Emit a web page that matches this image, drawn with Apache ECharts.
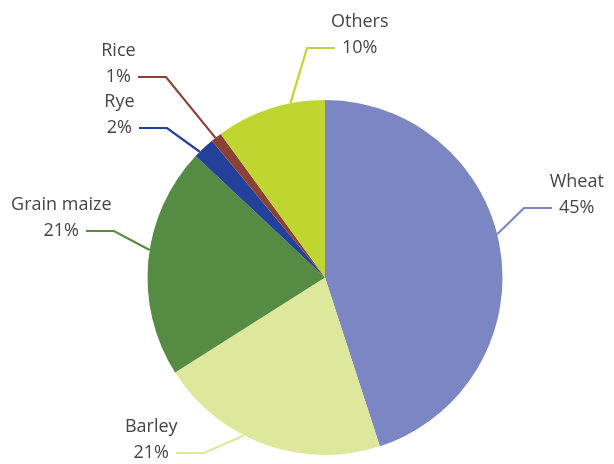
<!DOCTYPE html>
<html><head><meta charset="utf-8">
<script src="https://cdn.jsdelivr.net/npm/echarts@6/dist/echarts.min.js"></script>
<style>html,body{margin:0;padding:0;background:#fff}#c{width:614px;height:464px}</style>
</head><body><div id="c"></div>
<script>
// ---- data ----
const categories = ['Wheat', 'Barley', 'Grain maize', 'Rye', 'Rice', 'Others'];
const shares = [45, 21, 21, 2, 1, 10];

// ---- style / layout ----
const sliceColors = ['#7b86c2', '#dde89c', '#568b44', '#23409a', '#8b4136', '#bfd630'];
// outer end of each leader line (next to the percentage text) and label side
const labelAnchors = [[552, 208, 'right'], [176, 453, 'left'], [86, 231, 'left'], [139, 128, 'left'], [138, 77, 'left'], [335, 48, 'right']];
const PIE_CX = 325, PIE_CY = 277.5, PIE_R = 177.5;
const FONT = '"Open Sans", sans-serif', FS = 18, FW = 'normal', LH = 26.5, LEN2 = 28, GAP = 7;

const mctx = document.createElement('canvas').getContext('2d');
mctx.font = FW + ' ' + FS + 'px ' + FONT;

const total = shares.reduce((a, b) => a + b, 0);
const starts = [];
let acc = 0;
shares.forEach(v => { starts.push(acc / total * 360); acc += v; });

const chart = echarts.init(document.getElementById('c'), null, {renderer: 'canvas'});
chart.setOption({
  animation: false,
  backgroundColor: '#ffffff',
  series: [{
    type: 'pie',
    center: [PIE_CX, PIE_CY],
    radius: PIE_R,
    startAngle: 90,
    clockwise: true,
    avoidLabelOverlap: false,
    data: categories.map((n, i) => ({name: n, value: shares[i], itemStyle: {color: sliceColors[i]}})),
    itemStyle: {borderWidth: 0},
    emphasis: {disabled: true},
    label: {
      show: true,
      position: 'outside',
      fontFamily: FONT,
      fontSize: FS,
      fontWeight: FW,
      color: '#454545',
      formatter: p => '{n|' + p.name + '}\n{n|' + p.value + '%}',
      rich: {n: {fontFamily: FONT, fontSize: FS, fontWeight: FW, lineHeight: LH, align: 'center', color: '#454545'}}
    },
    labelLine: {show: true, length: 10, length2: LEN2, lineStyle: {width: 2.2}},
    labelLayout: function (p) {
      const i = p.dataIndex;
      const ex = labelAnchors[i][0], ey = labelAnchors[i][1];
      const s = labelAnchors[i][2] === 'right' ? 1 : -1;
      const bx = ex - s * LEN2, by = ey;
      const a0 = starts[i], a1 = starts[i] + shares[i] / total * 360, mid = (a0 + a1) / 2;
      let ba = Math.atan2(bx - PIE_CX, -(by - PIE_CY)) * 180 / Math.PI;
      if (ba < 0) ba += 360;
      let a = (mid + ba) / 2;
      a = Math.max(a0, Math.min(a1, a));
      const r = a * Math.PI / 180;
      const px = PIE_CX + PIE_R * Math.sin(r), py = PIE_CY - PIE_R * Math.cos(r);
      const pw = mctx.measureText(shares[i] + '%').width;
      return {
        x: ex + s * (GAP + pw / 2),
        y: ey - LH / 2,
        align: 'center',
        verticalAlign: 'middle',
        labelLinePoints: [[px, py], [bx, by], [ex, ey]]
      };
    }
  }]
});
</script></body></html>
